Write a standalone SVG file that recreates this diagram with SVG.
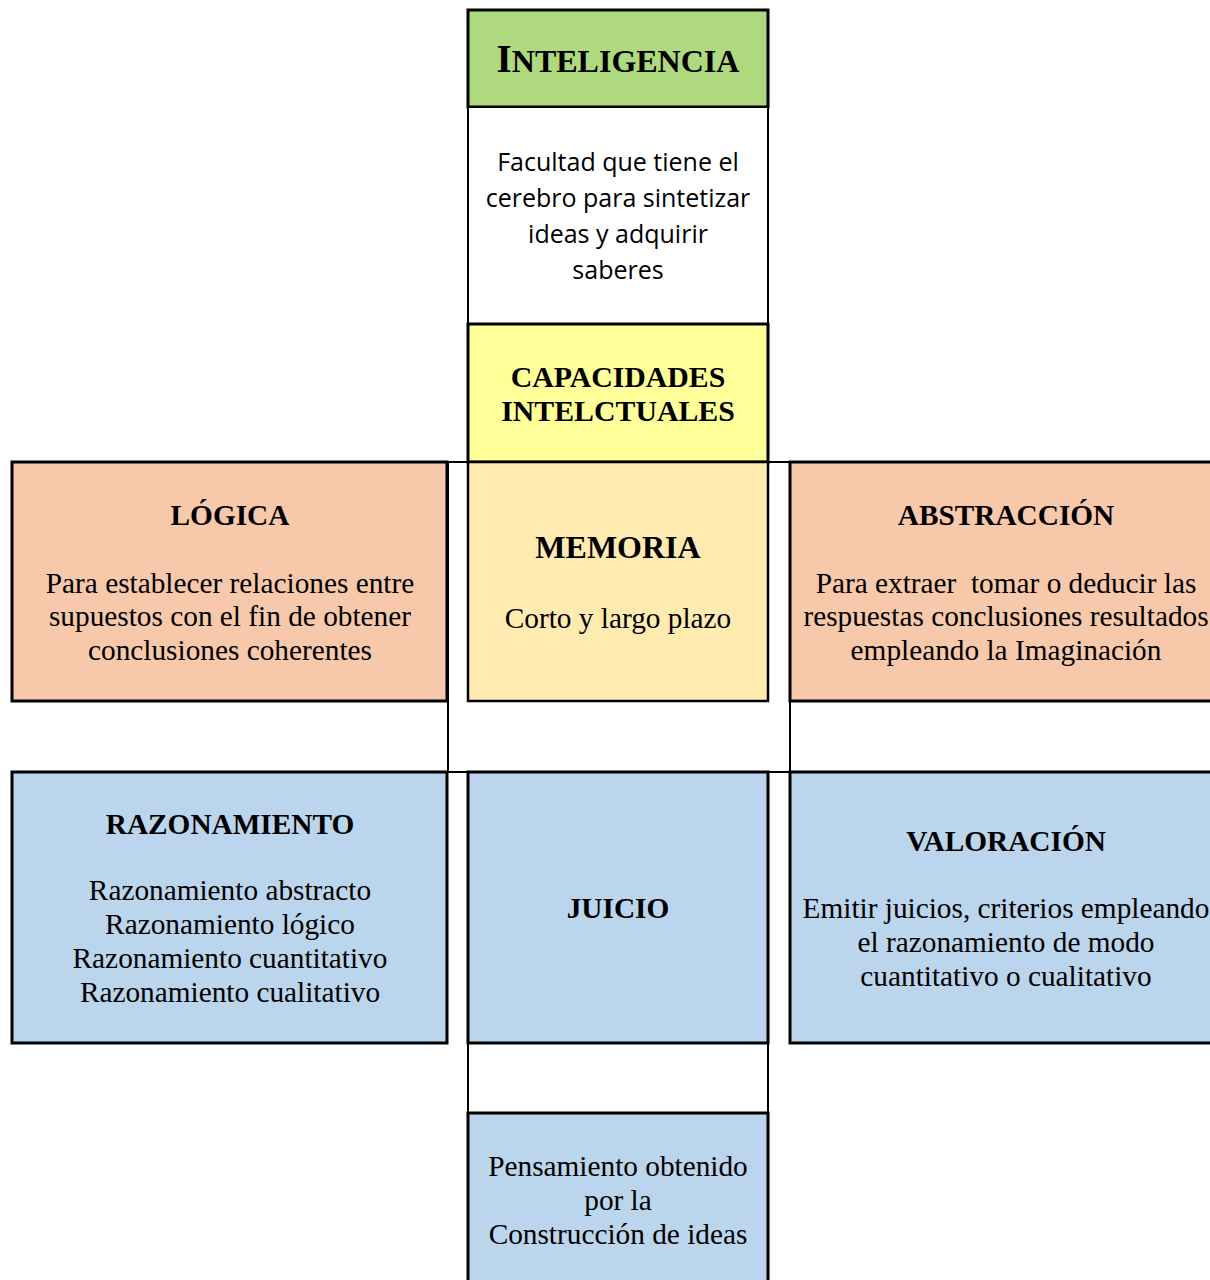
<svg xmlns="http://www.w3.org/2000/svg" width="1210" height="1280" viewBox="0 0 1210 1280">
<style>
.b{stroke:#000;stroke-width:3}
.w{fill:#fff;stroke:#000;stroke-width:2}
.t{font-family:"Liberation Serif","Times New Roman",serif;font-size:29.3px;fill:#000;text-anchor:middle}
.h{font-family:"Liberation Serif","Times New Roman",serif;font-weight:bold;font-size:29.3px;fill:#000;text-anchor:middle}
.s{font-family:"Open Sans","Noto Sans",sans-serif;font-size:25px;fill:#000;text-anchor:middle}
.green{fill:#AED97E}.yellow{fill:#FFFF99}.cream{fill:#FFEBAF}.peach{fill:#F7C8AA}.blue{fill:#BAD5EC}
</style>
<rect width="1210" height="1280" fill="#fff"/>
<g id="connectors">
<rect class="w" x="448" y="462" width="342" height="310"/>
<rect class="w" x="468" y="1043" width="300" height="70"/>
</g>
<g id="inteligencia">
<rect class="b green" x="468" y="10" width="300" height="97"/>
<text class="h" x="618" y="72"><tspan font-size="39">I</tspan><tspan font-size="32">NTELIGENCIA</tspan></text>
</g>
<g id="definicion">
<rect class="w" x="468" y="107" width="300" height="217"/>
<text class="s" x="618" y="171">Facultad que tiene el</text>
<text class="s" x="618" y="207">cerebro para sintetizar</text>
<text class="s" x="618" y="243">ideas y adquirir</text>
<text class="s" x="618" y="279">saberes</text>
</g>
<g id="capacidades">
<rect class="b yellow" x="468" y="324" width="300" height="138"/>
<text class="h" x="618" y="387" style="font-size:29.8px">CAPACIDADES</text>
<text class="h" x="618" y="421" style="font-size:29.8px">INTELCTUALES</text>
</g>
<g id="memoria">
<rect class="cream" x="468" y="462" width="300" height="239" stroke="#000" stroke-width="2.5"/>
<text class="h" x="618" y="558" style="font-size:32px">MEMORIA</text>
<text class="t" x="618" y="628">Corto y largo plazo</text>
</g>
<g id="logica">
<rect class="b peach" x="12" y="462" width="435" height="239"/>
<text class="h" x="230" y="525">LÓGICA</text>
<text class="t" x="230" y="593">Para establecer relaciones entre</text>
<text class="t" x="230" y="626">supuestos con el fin de obtener</text>
<text class="t" x="230" y="660">conclusiones coherentes</text>
</g>
<g id="abstraccion">
<rect class="b peach" x="790" y="462" width="435" height="239"/>
<text class="h" x="1006" y="525">ABSTRACCIÓN</text>
<text class="t" x="1006" y="593" xml:space="preserve">Para extraer  tomar o deducir las</text>
<text class="t" x="1006" y="626">respuestas conclusiones resultados</text>
<text class="t" x="1006" y="660">empleando la Imaginación</text>
</g>
<g id="razonamiento">
<rect class="b blue" x="12" y="772" width="435" height="271"/>
<text class="h" x="230" y="834">RAZONAMIENTO</text>
<text class="t" x="230" y="900">Razonamiento abstracto</text>
<text class="t" x="230" y="934">Razonamiento lógico</text>
<text class="t" x="230" y="968">Razonamiento cuantitativo</text>
<text class="t" x="230" y="1002">Razonamiento cualitativo</text>
</g>
<g id="juicio">
<rect class="b blue" x="468" y="772" width="300" height="271"/>
<text class="h" x="618" y="918">JUICIO</text>
</g>
<g id="valoracion">
<rect class="b blue" x="790" y="772" width="435" height="271"/>
<text class="h" x="1006" y="851">VALORACIÓN</text>
<text class="t" x="1006" y="918">Emitir juicios, criterios empleando</text>
<text class="t" x="1006" y="952">el razonamiento de modo</text>
<text class="t" x="1006" y="986">cuantitativo o cualitativo</text>
</g>
<g id="pensamiento">
<rect class="b blue" x="468" y="1113" width="300" height="180"/>
<text class="t" x="618" y="1176">Pensamiento obtenido</text>
<text class="t" x="618" y="1210">por la</text>
<text class="t" x="618" y="1244">Construcción de ideas</text>
</g>
</svg>
